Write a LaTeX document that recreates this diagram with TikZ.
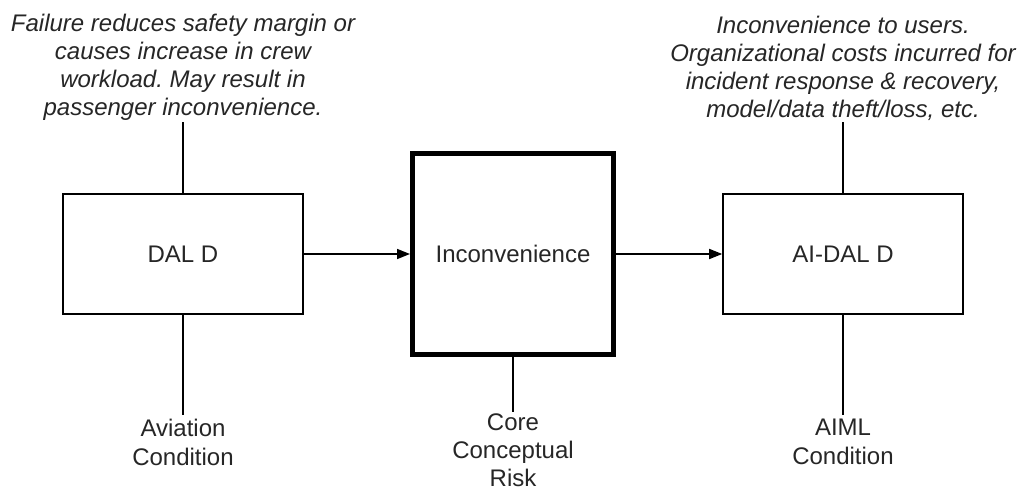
\documentclass[tikz,border=0pt]{standalone}
\usepackage{fontspec}
\setmainfont{Liberation Sans}
\usetikzlibrary{arrows.meta,positioning}
\frenchspacing

\begin{document}
\begin{tikzpicture}[x=0.5pt,y=-0.5pt,
	every node/.style={font=\fontsize{12}{14.5}\selectfont,text=black!85},
	dalbox/.style={draw,line width=0.8pt,minimum width=120pt,minimum height=60pt},
	riskbox/.style={draw,line width=2.5pt,minimum width=100.5pt,minimum height=100.5pt},
	note/.style={align=center,inner sep=0.5pt},
	cond/.style={align=center,anchor=north,inner sep=2pt},
	link/.style={line width=0.8pt},
	flow/.style={line width=0.8pt,-{Triangle[length=6.5pt,width=5pt]}}]
				%\draw[color=gray,step=10, help lines,opacity=0.3] (0,0) grid (1022,492); %help grids
				\useasboundingbox (0,0) rectangle (1022,492);
				\node[dalbox] (dald) at (183,254) {DAL D};
				\node[riskbox] (incon) at (513,254) {Inconvenience};
				\node[dalbox] (aidald) at (843,254) {AI-DAL D};

				\node[note,anchor=south,font=\itshape\fontsize{12}{14}\selectfont] (aviatext) at (183,122) {Failure reduces safety margin or\\causes increase in crew\\workload. May result in\\passenger inconvenience.};
				\node[note,anchor=south,font=\itshape\fontsize{12}{14}\selectfont] (aimltext) at (843,122) {Inconvenience to users.\\Organizational costs incurred for\\incident response \& recovery,\\model/data theft/loss, etc.};

				\node[cond] (aviacond) at (183,415) {Aviation\\Condition};
				\node[cond,inner sep=0.5pt,font=\fontsize{12}{14}\selectfont] (corerisk) at (513,412) {Core\\Conceptual\\Risk};
				\node[cond] (aimlcond) at (843,415) {AIML\\Condition};

				\draw[flow] (dald) -- (incon);
				\draw[flow] (incon) -- (aidald);
				\draw[link] (dald.north) -- (aviatext.south);
				\draw[link] (aidald.north) -- (aimltext.south);
				\draw[link] (dald.south) -- (aviacond.north);
				\draw[link] (incon.south) -- (corerisk.north);
				\draw[link] (aidald.south) -- (aimlcond.north);
\end{tikzpicture}
\end{document}
